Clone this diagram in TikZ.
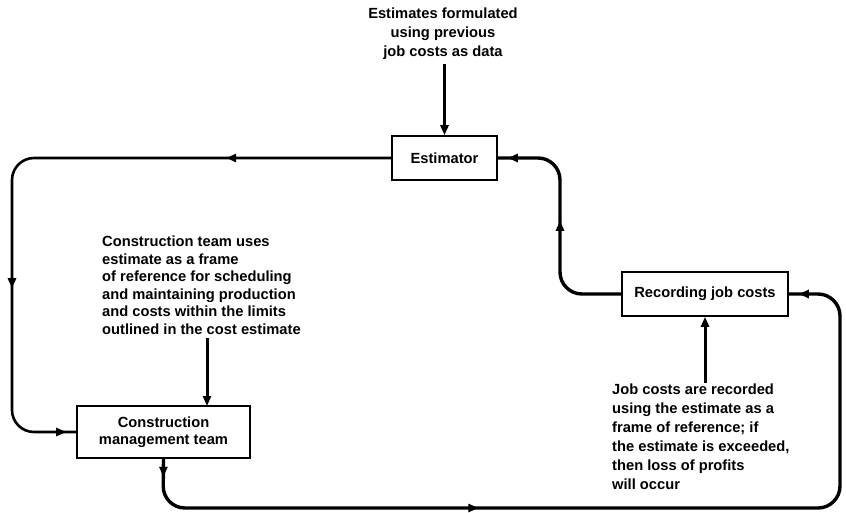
\documentclass[tikz,border=0pt]{standalone}
\usepackage{fontspec}
\setmainfont{Liberation Sans}
\usetikzlibrary{arrows.meta,decorations.markings}
\tikzset{
  tip/.tip={Triangle[length=10pt,width=8pt]},
  box/.style={draw,line width=1.6pt,minimum height=44pt,align=center,font=\bfseries\fontsize{14.7}{17}\selectfont},
  txt/.style={align=left,inner sep=0pt,font=\bfseries\fontsize{14.7}{17.5}\selectfont},
  flow/.style={line width=2.6pt,rounded corners=22pt},
  thick flow/.style={line width=3.4pt,rounded corners=22pt},
  feed/.style={line width=3pt,-{tip}},
  markat/.style={postaction={decorate,decoration={markings,mark=at position #1 with {\arrow{tip}}}}}
}
\begin{document}
\begin{tikzpicture}[x=1pt,y=-1pt]
\useasboundingbox (0,0) rectangle (846,512);
% boxes
\node[box,minimum width=105pt] (est) at (444.5,158) {Estimator};
\node[box,minimum width=173pt,minimum height=52pt] (cmt) at (163.5,432) {Construction\\management team};
\node[box,minimum width=166pt] (rec) at (705,294) {Recording job costs};
% texts
\node[txt,align=center,anchor=north,font=\bfseries\fontsize{14.7}{19}\selectfont] (ttop) at (443,8) {Estimates formulated\\using previous\\job costs as data};
\node[txt,anchor=north west] (tcons) at (102,236) {Construction team uses\\estimate as a frame\\of reference for scheduling\\and maintaining production\\and costs within the limits\\outlined in the cost estimate};
\node[txt,anchor=north west,font=\bfseries\fontsize{14.7}{19}\selectfont] (tjob) at (612,384) {Job costs are recorded\\using the estimate as a\\frame of reference; if\\the estimate is exceeded,\\then loss of profits\\will occur};
% feed arrows
\draw[feed] (ttop.south -| est.north) ++(0,4) -- (est.north);
\coordinate (cn) at (207,406);
\draw[feed] (207,338) -- (cn);
\draw[feed] (tjob.north -| rec.south) ++(0,-1) -- (rec.south);
% loop: estimator -> construction team
\coordinate (a1) at (12,158);
\coordinate (a2) at (12,432);
\draw[flow,markat=165pt,markat=500pt,markat=-10pt] (est.west) -- (a1) -- (a2) -- (cmt.west);
% loop: construction team -> recording job costs
\coordinate (b1) at (163,508);
\coordinate (b2) at (840,508);
\coordinate (b3) at (840,294);
\draw[thick flow,markat=18pt,markat=355pt,markat=-10pt] (cmt.south) -- (b1) -- (b2) -- (b3) -- (rec.east);
% loop: recording job costs -> estimator
\coordinate (c1) at (560,294);
\coordinate (c2) at (560,158);
\draw[thick flow,markat=125pt,markat=-10pt] (rec.west) -- (c1) -- (c2) -- (est.east);
\end{tikzpicture}
\end{document}
